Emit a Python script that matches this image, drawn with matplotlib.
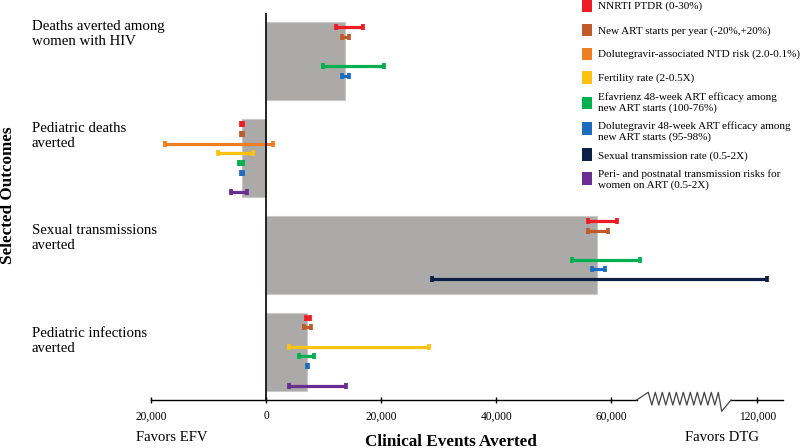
import numpy as np
import matplotlib
matplotlib.use("Agg")
import matplotlib.pyplot as plt
from matplotlib.patches import Rectangle
from matplotlib.lines import Line2D

plt.rcParams['font.family'] = ['Liberation Serif', 'DejaVu Serif']

# ---------------- data ----------------
outcomes = ["Deaths averted among\nwomen with HIV",
            "Pediatric deaths\naverted",
            "Sexual transmissions\naverted",
            "Pediatric infections\naverted"]
base_values = [13700, -4200, 57500, 7050]

param_labels = ["NNRTI PTDR (0-30%)",
                "New ART starts per year (-20%,+20%)",
                "Dolutegravir-associated NTD risk (2.0-0.1%)",
                "Fertility rate (2-0.5X)",
                "Efavrienz 48-week ART efficacy among\nnew ART starts (100-76%)",
                "Dolutegravir 48-week ART efficacy among\nnew ART starts (95-98%)",
                "Sexual transmission rate (0.5-2X)",
                "Peri- and postnatal transmission risks for\nwomen on ART (0.5-2X)"]
param_colors = ["#EE1D25", "#C15A2A", "#EF7E22", "#FFC20E",
                "#00B04F", "#1C6DBF", "#0C1F45", "#6A2D90"]

# (low, high) per outcome; None = not shown
nnrti_ptdr   = [(12200, 16750), (-4400, -4050), (55900, 61000), (6950, 7650)]
new_art      = [(13250, 14400), (-4450, -4050), (55900, 59400), (6600, 7750)]
ntd_risk     = [None, (-17600, 1200), None, None]
fertility    = [None, (-8350, -2250), None, (3950, 28300)]
efv_efficacy = [(9850, 20450), (-4700, -4000), (53200, 65200), (5650, 8300)]
dtg_efficacy = [(13100, 14450), (-4350, -4050), (56600, 59000), (7080, 7300)]
sexual_rate  = [None, None, (28850, 121700), None]
perinatal    = [None, (-6200, -3300), None, (3950, 13850)]
sensitivity = [nnrti_ptdr, new_art, ntd_risk, fertility,
               efv_efficacy, dtg_efficacy, sexual_rate, perinatal]

tick_values = [-20000, 0, 20000, 40000, 60000, 120000]
tick_labels = ["20,000", "0", "20,000", "40,000", "60,000", "120,000"]

# ---------------- broken x scale ----------------
B1, B2, OFF = 65000.0, 115000.0, 34540.0
R = (B2 - B1 - OFF) / (B2 - B1)

def fwd(x):
    x = np.asarray(x, dtype=float)
    return np.where(x <= B1, x, np.where(x <= B2, B1 + (x - B1) * R, x - OFF))

def inv(y):
    y = np.asarray(y, dtype=float)
    c2 = B2 - OFF
    return np.where(y <= B1, y, np.where(y <= c2, B1 + (y - B1) / R, y + OFF))

W, H = 800, 448
fig = plt.figure(figsize=(W / 100, H / 100), dpi=100)
axL, axR, axT, axB = 151.4, 782.7, 13, 400
ax = fig.add_axes([axL / W, (H - axB) / H, (axR - axL) / W, (axB - axT) / H])
ax.set_xscale('function', functions=(fwd, inv))
ax.set_xlim(-20000, 124400)
ax.set_ylim(3.5, -0.5)

ypos = np.arange(len(outcomes))
bar_h = 0.806
ax.barh(ypos, base_values, height=bar_h, color="#ABAAA8",
        edgecolor="#C9C9C9", linewidth=0.8, zorder=1)

slot = bar_h / len(sensitivity)
for i, (series, col) in enumerate(zip(sensitivity, param_colors)):
    for j, rng in enumerate(series):
        if rng is None:
            continue
        y = ypos[j] + (i - 3.5) * slot
        ax.plot([rng[0], rng[1]], [y, y], color=col, lw=2.3,
                solid_capstyle='butt', marker='|', ms=4.0, mew=2.7, zorder=4)

ax.axvline(0, color="black", lw=1.2, zorder=5)

for s in ax.spines.values():
    s.set_visible(False)
ax.set_yticks([])
ax.set_xticks(tick_values)
ax.set_xticklabels(tick_labels)
ax.minorticks_off()
ax.tick_params(axis='x', direction='inout', length=5, width=1,
               labelsize=8.3, pad=5, colors='black')

# broken axis line
trans = ax.get_xaxis_transform()
ax.plot([-20000, 64515], [0, 0], color="black", lw=1, transform=trans,
        clip_on=False, zorder=6)
ax.plot([115465, 124400], [0, 0], color="black", lw=1, transform=trans,
        clip_on=False, zorder=6)

# zigzag break marker (figure pixel coordinates)
zx = [636.7]
zy = [400]
for k in range(11):
    zx.append(648.3 + 7.0 * k); zy.append(392.3)
    if k < 10:
        zx.append(651.8 + 7.0 * k); zy.append(405.0)
zx += [721.7, 731.0]
zy += [411.3, 400.0]
fig.add_artist(Line2D(np.array(zx) / W, 1 - np.array(zy) / H,
                      color="#444444", lw=0.9, transform=fig.transFigure))

def ftext(x, y, s, **kw):
    fig.text(x / W, 1 - y / H, s, **kw)

# category labels
for lab, yc in zip(outcomes, [34, 135.7, 238.3, 340.8]):
    ftext(32, yc, lab, ha='left', va='center', fontsize=10.7, linespacing=1.2)

ftext(8, 195, "Selected Outcomes", rotation=90, ha='center', va='center',
      fontsize=12.3, fontweight='bold')
ftext(172, 437.3, "Favors EFV", ha='center', va='center', fontsize=10.6)
ftext(722, 437.3, "Favors DTG", ha='center', va='center', fontsize=10.6)
ftext(451, 441.5, "Clinical Events Averted", ha='center', va='center',
      fontsize=12.3, fontweight='bold')

# legend (manual)
sq_centers = [5.7, 30, 54, 77.5, 103, 128.7, 154.7, 178.7]
tx_centers = [6.5, 31, 54.5, 78, 102.5, 132, 155.7, 180]
for lab, col, sc, tc in zip(param_labels, param_colors, sq_centers, tx_centers):
    fig.add_artist(Rectangle((581.7 / W, 1 - (sc + 6.3) / H), 10 / W, 12.7 / H,
                             facecolor=col, edgecolor='none',
                             transform=fig.transFigure))
    ftext(597.7, tc, lab, ha='left', va='center', fontsize=8.0, linespacing=1.2)

fig.savefig("out.png", dpi=100)
